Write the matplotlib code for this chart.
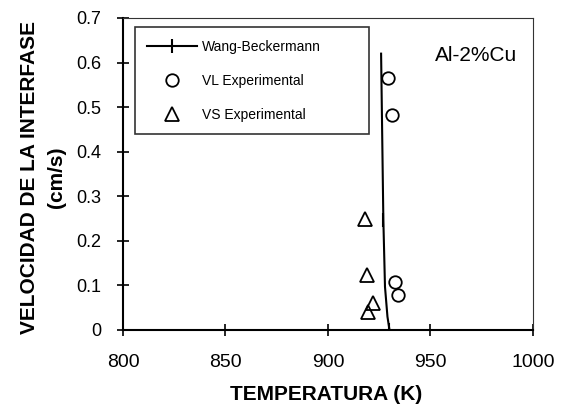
import matplotlib
matplotlib.use("Agg")
import matplotlib.pyplot as plt

plt.rcParams['font.family'] = ['Liberation Sans', 'DejaVu Sans']

# Wang-Beckermann model curve
wb_temp = [925.9, 927.0, 927.8, 929.0, 930.0]
wb_vel = [0.62, 0.247, 0.097, 0.03, 0.0]

# experimental points
vl_temp = [929.4, 931.0, 932.7, 934.3]
vl_vel = [0.565, 0.482, 0.108, 0.078]
vs_temp = [918.0, 918.8, 922.1, 919.7]
vs_vel = [0.25, 0.123, 0.06, 0.041]

fig = plt.figure(figsize=(5.66, 4.05), dpi=100)
ax = fig.add_axes([0.2173, 0.1852, 0.7244, 0.7704])

ax.plot(wb_temp, wb_vel, color='black', lw=1.5, marker='|', markersize=10,
        markevery=[1, 4], mew=1.5, label='Wang-Beckermann')
ax.plot(vl_temp, vl_vel, ls='none', marker='o', mfc='none', mec='black',
        markersize=9, mew=1.3, label='VL Experimental')
ax.plot(vs_temp, vs_vel, ls='none', marker='^', mfc='none', mec='black',
        markersize=9.5, mew=1.3, label='VS Experimental')

ax.set_xlim(800, 1000)
ax.set_ylim(0, 0.7)
ax.set_xticks([800, 850, 900, 950, 1000])
ax.set_yticks([0, 0.1, 0.2, 0.3, 0.4, 0.5, 0.6, 0.7])
ax.set_yticklabels(['0', '0.1', '0.2', '0.3', '0.4', '0.5', '0.6', '0.7'])
ax.tick_params(direction='inout', length=9, width=1.2)
ax.tick_params(axis='x', labelsize=14, pad=12.5)
ax.tick_params(axis='y', labelsize=13, pad=11)

for s in ['top', 'right']:
    ax.spines[s].set_linewidth(0.8)
    ax.spines[s].set_color('#333333')
for s in ['left', 'bottom']:
    ax.spines[s].set_linewidth(1.5)

ax.set_xlabel('TEMPERATURA (K)', fontsize=15, fontweight='bold')
ax.xaxis.set_label_coords(0.496, -0.176)
ax.set_ylabel('VELOCIDAD DE LA INTERFASE\n(cm/s)', fontsize=15,
              fontweight='bold', linespacing=1.5)
ax.yaxis.set_label_coords(-0.14, 0.49)

ax.text(972, 0.615, 'Al-2%Cu', fontsize=15, ha='center', va='center')

leg = ax.legend(loc='upper left', bbox_to_anchor=(0.029, 0.631, 0.571, 0.34),
                mode='expand', borderaxespad=0, fontsize=10, frameon=True,
                fancybox=False, edgecolor='black', handlelength=3.6,
                labelspacing=1.45, borderpad=0.9, handletextpad=0.3)
leg.get_frame().set_linewidth(1.2)

plt.savefig('out.png', dpi=100)
